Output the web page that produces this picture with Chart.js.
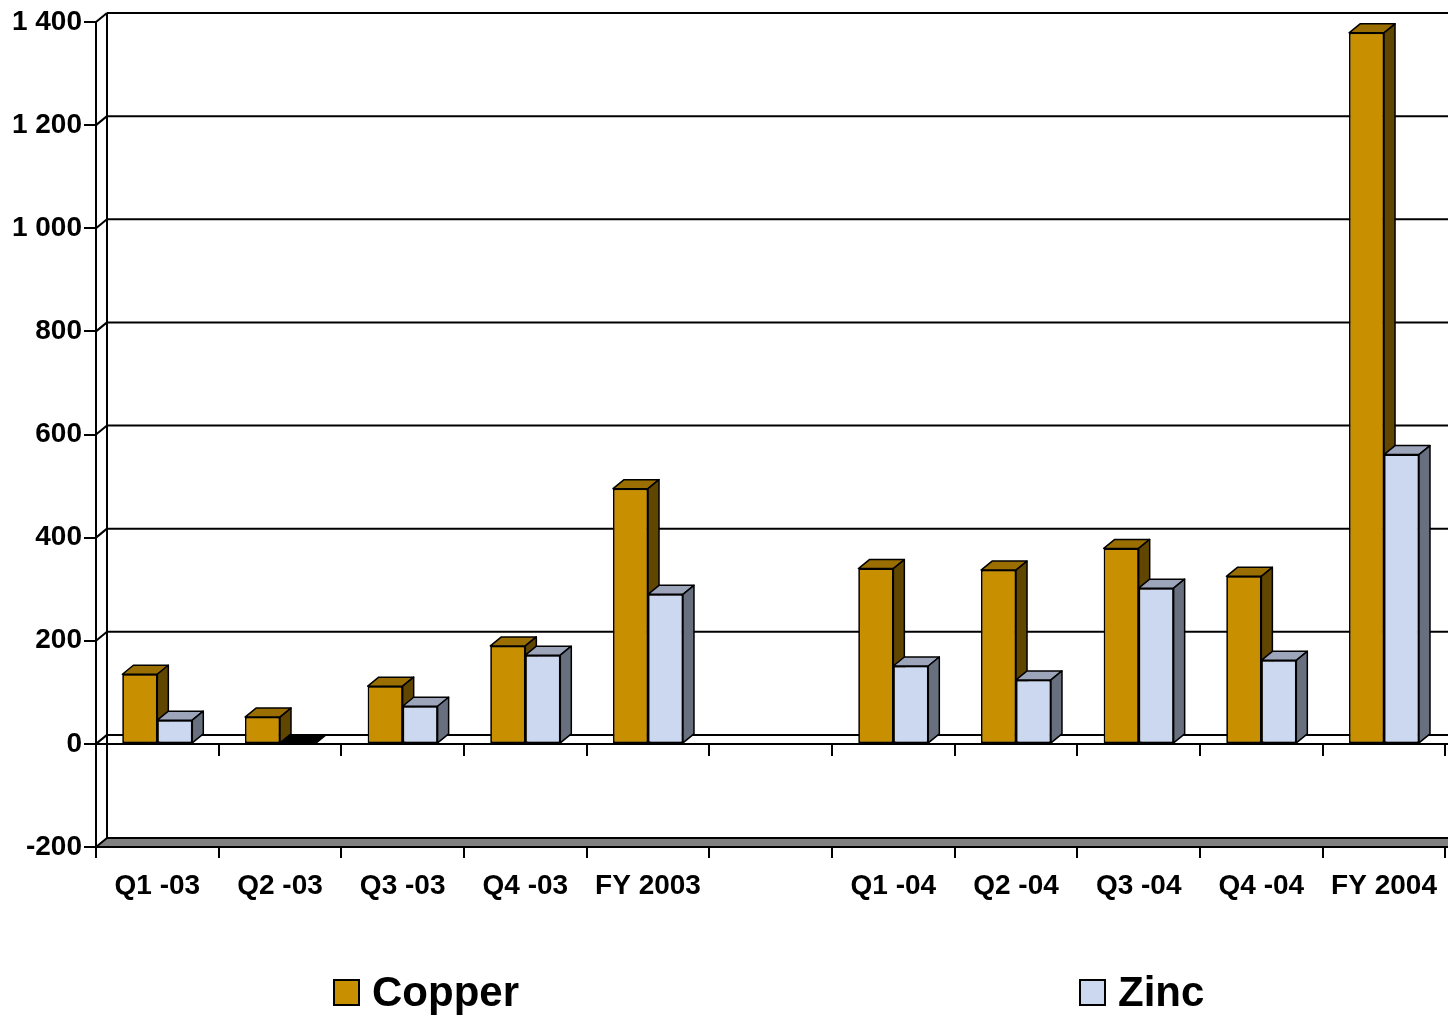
<!DOCTYPE html>
<html>
<head>
<meta charset="utf-8">
<script src="https://cdn.jsdelivr.net/npm/chart.js@4"></script>
<style>
  html, body { margin: 0; padding: 0; background: #fff; }
  #wrap { width: 1448px; height: 1015px; position: relative; }
</style>
</head>
<body>
<div id="wrap"><canvas id="c"></canvas></div>
<script>
// Quarterly and full-year figures per metal
const categories = ['Q1 -03', 'Q2 -03', 'Q3 -03', 'Q4 -03', 'FY 2003', '', 'Q1 -04', 'Q2 -04', 'Q3 -04', 'Q4 -04', 'FY 2004'];
const copperValues = [135, 52, 112, 190, 495, null, 340, 337, 379, 325, 1379];
const zincValues = [46, 0, 73, 172, 290, null, 151, 124, 302, 162, 561];
const seriesNames = ['Copper', 'Zinc'];
const yTickMin = -200, yTickMax = 1400, yTickStep = 200;

// Face shading for the pseudo-3D columns: front, top, side
const shades = [
  { front: '#C89000', top: '#9A6E00', side: '#604600' },
  { front: '#CCD8F0', top: '#9DA5BA', side: '#687080' }
];
const DX = 11, DY = 9;            // depth offset of the back wall
const FONT = '"Liberation Sans", Arial, sans-serif';

function line(ctx, x1, y1, x2, y2) {
  ctx.beginPath(); ctx.moveTo(x1, y1); ctx.lineTo(x2, y2); ctx.stroke();
}
function poly(ctx, pts, fill) {
  ctx.beginPath();
  ctx.moveTo(pts[0][0], pts[0][1]);
  for (let i = 1; i < pts.length; i++) ctx.lineTo(pts[i][0], pts[i][1]);
  ctx.closePath();
  ctx.fillStyle = fill; ctx.fill(); ctx.stroke();
}

// Back wall, gridlines, floor slab, zero plane and column depth
const wallPlugin = {
  id: 'wall',
  beforeDatasetsDraw(chart) {
    const { ctx, chartArea: a, scales: { x, y } } = chart;
    const W = chart.width;
    ctx.save();
    ctx.strokeStyle = '#000';
    ctx.lineWidth = 2;
    ctx.lineJoin = 'round';
    const yf = y.getPixelForValue(y.min);
    const yt = y.getPixelForValue(y.max);
    // floor slab at the scale minimum
    poly(ctx, [[a.left, yf], [a.left + DX, yf - DY], [W + 5, yf - DY], [W + 5, yf]], '#808080');
    // back wall left edge
    line(ctx, a.left + DX, yt - DY, a.left + DX, yf - DY);
    // gridlines on the back wall with their side-wall diagonals
    y.ticks.forEach(t => {
      if (t.value === y.min) return;
      const py = y.getPixelForValue(t.value);
      line(ctx, a.left, py, a.left + DX, py - DY);
      line(ctx, a.left + DX, py - DY, W, py - DY);
    });
    // zero plane front edge and its category ticks
    const y0 = y.getPixelForValue(0);
    line(ctx, a.left, y0, W, y0);
    for (let i = 0; i <= categories.length; i++) {
      const bx = Math.round(x.getPixelForValue(i - 0.5));
      line(ctx, bx, y0, bx, y0 + 12);
    }
    ctx.restore();
  },
  afterDatasetsDraw(chart) {
    const { ctx } = chart;
    ctx.save();
    // columns are painted left series first so each neighbour covers the previous side face
    chart.data.datasets.forEach((ds, di) => {
      const meta = chart.getDatasetMeta(di);
      const shade = shades[di];
      meta.data.forEach((el, i) => {
        if (ds.data[i] === null || ds.data[i] === undefined) return;
        el.draw(ctx);
        const p = el.getProps(['x', 'y', 'base', 'width'], true);
        const x0 = p.x - p.width / 2, x1 = p.x + p.width / 2;
        const top = Math.min(p.y, p.base), bot = Math.max(p.y, p.base);
        const flat = bot - top < 1;
        ctx.strokeStyle = '#000';
        ctx.lineWidth = 1.5;
        ctx.lineJoin = 'round';
        poly(ctx, [[x0, top], [x0 + DX, top - DY], [x1 + DX, top - DY], [x1, top]], flat ? '#000' : shade.top);
        if (!flat) {
          poly(ctx, [[x1, top], [x1 + DX, top - DY], [x1 + DX, bot - DY], [x1, bot]], shade.side);
        }
      });
    });
    ctx.restore();
  }
};

// Legend drawn along the bottom edge
const legendPlugin = {
  id: 'bottomLegend',
  afterDraw(chart) {
    const { ctx } = chart;
    const xs = [334, 1080];
    const cy = 992;
    ctx.save();
    chart.data.datasets.forEach((ds, i) => {
      ctx.fillStyle = ds.backgroundColor;
      ctx.strokeStyle = '#000';
      ctx.lineWidth = 2;
      ctx.fillRect(xs[i], cy - 12, 25, 25);
      ctx.strokeRect(xs[i], cy - 12, 25, 25);
      ctx.fillStyle = '#000';
      ctx.font = 'bold 42px ' + FONT;
      ctx.textBaseline = 'middle';
      ctx.textAlign = 'left';
      ctx.fillText(ds.label, xs[i] + 38, cy + 2);
    });
    ctx.restore();
  }
};

const fmt = v => String(v).replace(/\B(?=(\d{3})+(?!\d))/g, ' ');

new Chart(document.getElementById('c'), {
  type: 'bar',
  data: {
    labels: categories,
    datasets: [
      {
        label: seriesNames[0], data: copperValues,
        backgroundColor: shades[0].front, borderColor: '#000', borderWidth: 1.5, borderSkipped: false
      },
      {
        label: seriesNames[1], data: zincValues,
        backgroundColor: shades[1].front, borderColor: '#000', borderWidth: 1.5, borderSkipped: false
      }
    ]
  },
  options: {
    responsive: true,
    maintainAspectRatio: false,
    animation: false,
    datasets: { bar: { categoryPercentage: 0.57, barPercentage: 1.0 } },
    layout: { padding: { top: 22, right: 1, left: 0, bottom: 0 } },
    plugins: { legend: { display: false }, tooltip: { enabled: false } },
    scales: {
      x: {
        offset: true,
        grid: { drawOnChartArea: false, offset: true, color: '#000', lineWidth: 2, tickLength: 11 },
        border: { display: true, color: '#000', width: 2 },
        ticks: {
          color: '#000', autoSkip: false, maxRotation: 0, padding: 11,
          font: { family: FONT, size: 28, weight: 'bold' }
        },
        afterFit(s) { s.height = 168; }
      },
      y: {
        min: yTickMin, max: yTickMax,
        grid: { drawOnChartArea: false, color: '#000', lineWidth: 2, tickLength: 12 },
        border: { display: true, color: '#000', width: 2 },
        ticks: {
          stepSize: yTickStep, color: '#000', padding: 2,
          font: { family: FONT, size: 28, weight: 'bold' },
          callback: v => fmt(v)
        },
        afterFit(s) { s.width = 96; }
      }
    }
  },
  plugins: [wallPlugin, legendPlugin]
});
</script>
</body>
</html>
